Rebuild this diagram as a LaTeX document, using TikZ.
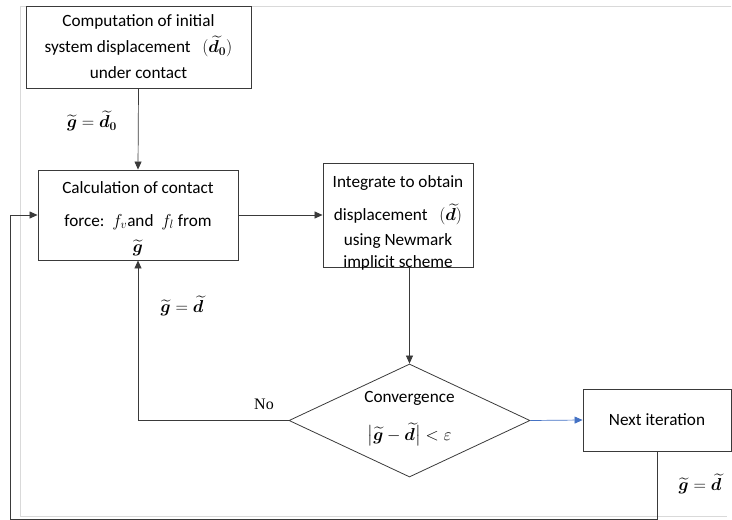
\documentclass[tikz,border=0pt]{standalone}
\usepackage{amsmath}
\usepackage{bm}
\usepackage{fontspec}
\setmainfont{Carlito}
\newfontfamily\serifno{Liberation Serif}
\usetikzlibrary{arrows.meta,shapes.geometric}
\definecolor{linegray}{HTML}{3A3A3A}
\definecolor{framegray}{HTML}{D9D9D9}
\definecolor{arrblue}{HTML}{4472C4}
\newcommand{\gt}{\widetilde{\bm{g}}}
\newcommand{\dt}{\widetilde{\bm{d}}}
\begin{document}
\begin{tikzpicture}[x=1pt,y=-1pt,
  box/.style={draw=linegray, line width=0.9pt, rectangle, align=center, inner sep=0pt, font=\fontsize{17.2}{26}\selectfont},
  txt/.style={align=center, inner sep=0pt, font=\fontsize{17.2}{26}\selectfont},
  arr/.style={draw=linegray, line width=0.7pt, -{Triangle[length=8pt,width=7pt]}},
  lbl/.style={font=\fontsize{18}{20}\selectfont, inner sep=0pt}]
\useasboundingbox (0,0) rectangle (732,520);
% page frame
\draw[framegray, line width=0.8pt] (731,6) -- (20,6) -- (20,516) -- (727,516);
% boxes
\node[box, fill=white, minimum width=225pt, minimum height=82pt] (b1) at (138.5,47)
  {Computation of initial\\ system displacement \ \ $(\dt_{\bm 0})$\\ under contact};
\node[box, minimum width=200pt, minimum height=90pt] (b2) at (138,215) {};
\node[txt] (b2text) at (138,218.5)
  {Calculation of contact\\[7pt] force:\ \ $f_v$and \ $f_l$ from\\[0pt] $\gt$};
\node[box, minimum width=150pt, minimum height=104pt] (b3) at (398,215) {};
\node[txt] (b3text) at (398,223)
  {Integrate to obtain\\[7pt] displacement \ \ $(\dt)$\\[-1pt] using Newmark\\[-4pt] implicit scheme};
\node[draw=linegray, line width=0.8pt, shape=diamond, minimum width=241pt, minimum height=113pt, inner sep=0pt] (dia) at (409.5,420.5) {};
\node[txt] (diatext) at (409.5,418.5) {Convergence\\[12pt] $\bigl|\gt-\dt\bigr|<\varepsilon$};
\node[box, minimum width=148pt, minimum height=62pt] (b4) at (657,420)
  {Next iteration};
\coordinate (loopc) at (10,519);
% connectors
\draw[arr] (b1.south) -- (b2.north);
\draw[arr] (b2.east) -- (b3.west);
\draw[arr] (b3.south -| dia.north) -- (dia.north);
\draw[arr, draw=arrblue] (dia.east) -- (b4.west);
\draw[arr] (dia.west) -| (b2.south);
\draw[arr] (b4.south) |- (loopc) |- (b2.west);
% labels
\node[lbl] (l1) at (92,121) {$\gt=\dt_{\bm 0}$};
\node[lbl] (l2) at (182,306) {$\gt=\dt$};
\node[lbl, font=\serifno\fontsize{16}{18}\selectfont] (l3) at (264,404) {No};
\node[lbl] (l4) at (700,484) {$\gt=\dt$};
\end{tikzpicture}
\end{document}
